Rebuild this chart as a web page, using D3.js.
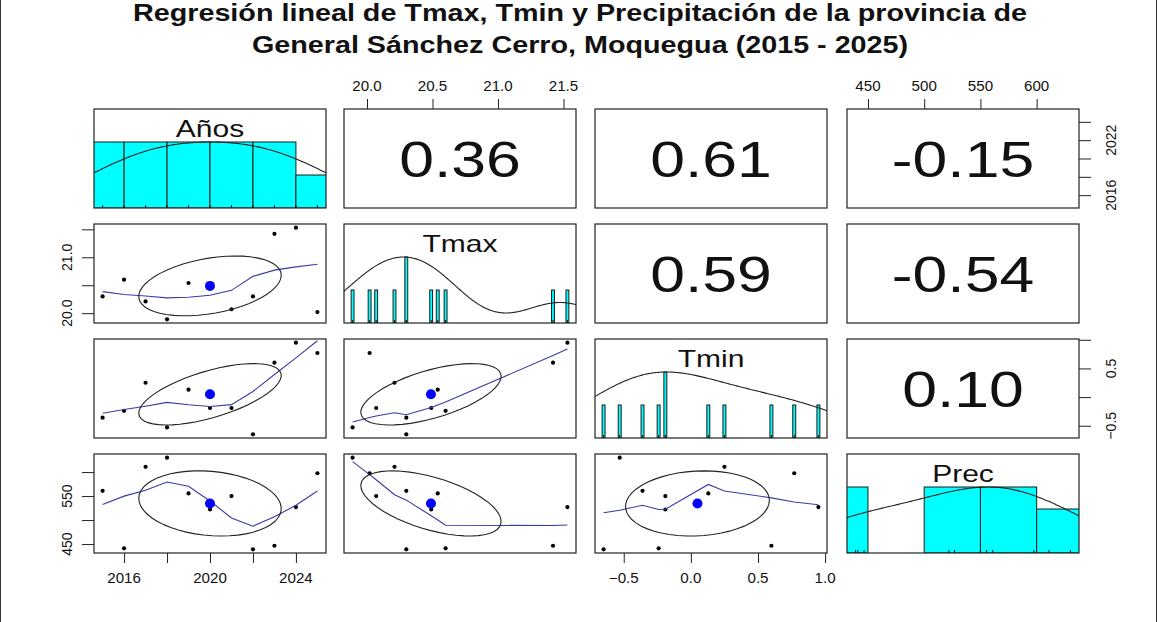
<!DOCTYPE html>
<html>
<head>
<meta charset="utf-8">
<script src="https://cdn.jsdelivr.net/npm/d3@7"></script>
<style>
  body { margin: 0; background: #fff; }
  svg { display: block; }
  text { font-family: "Liberation Sans", Arial, sans-serif; fill: #111; }
</style>
</head>
<body>
<svg id="chart" width="1158" height="622"></svg>
<script>
// ---- data: yearly values for General Sánchez Cerro, Moquegua ----
const varNames = ["Años", "Tmax", "Tmin", "Prec"];
const years = [2015, 2016, 2017, 2018, 2019, 2020, 2021, 2022, 2023, 2024, 2025];
const tmax  = [20.30, 20.60, 20.21, 19.89, 20.54, 20.49, 20.07, 20.30, 21.42, 21.53, 20.02];
const tmin  = [-0.36, -0.24, 0.25, -0.53, 0.13, -0.19, -0.19, -0.65, 0.60, 0.95, 0.77];
const prec  = [561, 441, 611, 630, 555.5, 522, 550, 439, 446.5, 527, 597.5];

// correlation labels for the upper triangle: [row, col, text]
const corrCells = [
  [0, 1, "0.36"], [0, 2, "0.61"], [0, 3, "-0.15"],
  [1, 2, "0.59"], [1, 3, "-0.54"],
  [2, 3, "0.10"]
];

// tick values and the labels printed on each outer axis
const yearTicks = [2016, 2018, 2020, 2022, 2024];
const yearBottomLabels = [2016, 2020, 2024];
const yearRightLabels = [2016, 2022];
const tmaxTicks = [20.0, 20.5, 21.0, 21.5];
const tmaxTopLabels = [20.0, 20.5, 21.0, 21.5];
const tmaxLeftLabels = [20.0, 21.0];
const tminTicks = [-0.5, 0.0, 0.5, 1.0];
const tminBottomLabels = [-0.5, 0.0, 0.5, 1.0];
const tminRightLabels = [-0.5, 0.5];
const precTicks = [450, 500, 550, 600];
const precTopLabels = [450, 500, 550, 600];
const precLeftLabels = [450, 550];

const titleLines = [
  "Regresión lineal de Tmax, Tmin y Precipitación de la provincia de",
  "General Sánchez Cerro, Moquegua (2015 - 2025)"
];

// ---- layout ----
const W = 1158, H = 622;
const SX = 1.25;                 // horizontal stretch of the large lettering
const SXT = 1.08;                // horizontal stretch of tick labels
const tickFont = 14;
const panelW = 232, panelH = 99;
const colX = [94, 344, 595, 847];
const rowY = [109, 224, 339, 454];
const histCol = "#00FFFF";
const smoothCol = "#3a3aa6";

const vars = [years, tmax, tmin, prec];

const svg = d3.select("#chart");
svg.append("rect").attr("width", W).attr("height", H).attr("fill", "#fff");
// thin frame down the sides of the figure
svg.append("path").attr("d", `M0.5,0V${H}M${W - 1.5},0V${H}`)
  .attr("stroke", "#333").attr("stroke-width", 1).attr("fill", "none");

function stext(g, x, y, str, size, opt = {}) {
  const sx = opt.sx || SX;
  const t = g.append("text")
    .attr("transform", `translate(${x},${y}) scale(${sx},1)` + (opt.rot ? ` rotate(${opt.rot})` : ""))
    .attr("text-anchor", opt.anchor || "middle")
    .attr("font-size", size)
    .text(str);
  if (opt.weight) t.attr("font-weight", opt.weight);
  return t;
}

// axis scales: data range padded by 4% on both ends, as R does
function padded(v) {
  const [a, b] = d3.extent(v);
  const p = (b - a) * 0.04;
  return [a - p, b + p];
}
const xScales = vars.map((v, j) => d3.scaleLinear().domain(padded(v)).range([colX[j], colX[j] + panelW]));
const yScales = vars.map((v, i) => d3.scaleLinear().domain(padded(v)).range([rowY[i] + panelH, rowY[i]]));

// ---- statistics helpers ----
function lowest(x, y, n, xs, nleft, nright, w, userw, rw) {
  const range = x[n] - x[1];
  const h = Math.max(xs - x[nleft], x[nright] - xs);
  const h9 = 0.999 * h, h1 = 0.001 * h;
  let a = 0, j = nleft;
  while (j <= n) {
    w[j] = 0;
    const r = Math.abs(x[j] - xs);
    if (r <= h9) {
      w[j] = r <= h1 ? 1 : Math.pow(1 - Math.pow(r / h, 3), 3);
      if (userw) w[j] *= rw[j];
      a += w[j];
    } else if (x[j] > xs) break;
    j++;
  }
  const nrt = j - 1;
  if (a <= 0) return { ok: false };
  for (j = nleft; j <= nrt; j++) w[j] /= a;
  if (h > 0) {
    a = 0;
    for (j = nleft; j <= nrt; j++) a += w[j] * x[j];
    let b = xs - a, c = 0;
    for (j = nleft; j <= nrt; j++) c += w[j] * (x[j] - a) * (x[j] - a);
    if (Math.sqrt(c) > 0.001 * range) {
      b /= c;
      for (j = nleft; j <= nrt; j++) w[j] *= (b * (x[j] - a) + 1);
    }
  }
  let ys = 0;
  for (j = nleft; j <= nrt; j++) ys += w[j] * y[j];
  return { ok: true, ys };
}

function lowess(xIn, yIn, f = 2 / 3, nsteps = 3) {
  const n = xIn.length;
  const ord = d3.range(n).sort((a, b) => (xIn[a] - xIn[b]) || (a - b));
  const x = [0].concat(ord.map(i => xIn[i]));
  const y = [0].concat(ord.map(i => yIn[i]));
  const delta = 0.01 * (x[n] - x[1]);
  const ys = new Array(n + 1).fill(0), rw = new Array(n + 1).fill(0), res = new Array(n + 1).fill(0);
  const ns = Math.max(2, Math.min(n, Math.floor(f * n + 1e-7)));
  let iter = 1;
  while (iter <= nsteps + 1) {
    let nleft = 1, nright = ns, last = 0, i = 1;
    for (;;) {
      if (nright < n) {
        const d1 = x[i] - x[nleft], d2 = x[nright + 1] - x[i];
        if (d1 > d2) { nleft++; nright++; continue; }
      }
      const out = lowest(x, y, n, x[i], nleft, nright, res, iter > 1, rw);
      ys[i] = out.ok ? out.ys : y[i];
      if (last < i - 1) {
        const denom = x[i] - x[last];
        for (let j = last + 1; j < i; j++) {
          const alpha = (x[j] - x[last]) / denom;
          ys[j] = alpha * ys[i] + (1 - alpha) * ys[last];
        }
      }
      last = i;
      const cut = x[last] + delta;
      for (i = last + 1; i <= n; i++) {
        if (x[i] > cut) break;
        if (x[i] === x[last]) { ys[i] = ys[last]; last = i; }
      }
      i = Math.max(last + 1, i - 1);
      if (last >= n) break;
    }
    for (let k = 1; k <= n; k++) res[k] = y[k] - ys[k];
    let sc = 0;
    for (let k = 1; k <= n; k++) sc += Math.abs(res[k]);
    sc /= n;
    if (iter > nsteps) break;
    const sorted = d3.range(1, n + 1).map(k => Math.abs(res[k])).sort(d3.ascending);
    const m1 = Math.floor(n / 2);
    const cmad = n % 2 === 0 ? 3 * (sorted[m1] + sorted[n - m1 - 1]) : 6 * sorted[m1];
    if (cmad < 1e-7 * sc) break;
    const c9 = 0.999 * cmad, c1 = 0.001 * cmad;
    for (let k = 1; k <= n; k++) {
      const r = Math.abs(res[k]);
      rw[k] = r <= c1 ? 1 : (r <= c9 ? Math.pow(1 - Math.pow(r / cmad, 2), 2) : 0);
    }
    iter++;
  }
  return d3.range(1, n + 1).map(k => [x[k], ys[k]]);
}

function densityCurve(v) {
  const n = v.length;
  const s = v.slice().sort(d3.ascending);
  const iqr = d3.quantileSorted(s, 0.75) - d3.quantileSorted(s, 0.25);
  const bw = 1.2 * 1.06 * Math.min(d3.deviation(v), iqr / 1.34) * Math.pow(n, -0.2);
  const from = s[0] - 3 * bw, to = s[n - 1] + 3 * bw;
  const pts = d3.range(512).map(k => {
    const xv = from + (to - from) * k / 511;
    let d = 0;
    for (const xi of v) d += Math.exp(-0.5 * Math.pow((xv - xi) / bw, 2));
    return [xv, d];
  });
  const mx = d3.max(pts, p => p[1]);
  return pts.map(p => [p[0], p[1] / mx]);
}

function histogramBins(v) {
  const n = v.length;
  const nclass = Math.ceil(Math.log2(n) + 1);
  const [lo, hi] = d3.extent(v);
  const step = d3.tickIncrement(lo, hi, nclass);
  const breaks = [];
  for (let b = Math.floor(lo / step) * step; b < hi + step * 0.5; b += step) breaks.push(b);
  if (breaks[breaks.length - 1] < hi) breaks.push(breaks[breaks.length - 1] + step);
  const bins = [];
  for (let k = 0; k < breaks.length - 1; k++) {
    const a = breaks[k], b = breaks[k + 1];
    const c = v.filter(x => (x > a || (k === 0 && x >= a)) && x <= b).length;
    bins.push({ a, b, c });
  }
  return bins;
}

const defs = svg.append("defs");
colX.forEach((cx, j) => rowY.forEach((ry, i) => {
  defs.append("clipPath").attr("id", `clip-${i}-${j}`)
    .append("rect").attr("x", cx).attr("y", ry).attr("width", panelW).attr("height", panelH);
}));

// ---- panels ----
for (let i = 0; i < 4; i++) {
  for (let j = 0; j < 4; j++) {
    const g = svg.append("g");
    const inner = g.append("g").attr("clip-path", `url(#clip-${i}-${j})`);
    const x0 = colX[j], y0 = rowY[i];
    if (i === j) {
      // diagonal: histogram (or value bars), density curve, rug, name
      const v = vars[i];
      const xs = xScales[i];
      const hy = d3.scaleLinear().domain([0, 1.5]).range([y0 + panelH, y0]);
      const counts = d3.rollup(v, a => a.length, d => d);
      if (counts.size < 11) {
        const vals = Array.from(counts.keys()).sort(d3.ascending);
        const maxC = d3.max(counts.values());
        const inter = d3.min(d3.pairs(vals), p => p[1] - p[0]) * (vals.length - 1) / 41;
        inner.selectAll("rect.bar").data(vals).join("rect")
          .attr("x", d => xs(d - inter)).attr("width", d => xs(d + inter) - xs(d - inter))
          .attr("y", d => hy(counts.get(d) / maxC)).attr("height", d => hy(0) - hy(counts.get(d) / maxC))
          .attr("fill", histCol).attr("stroke", "#1a1a1a").attr("stroke-width", 1);
      } else {
        const bins = histogramBins(v);
        const maxC = d3.max(bins, b => b.c);
        inner.selectAll("rect.bar").data(bins).join("rect")
          .attr("x", d => xs(d.a)).attr("width", d => xs(d.b) - xs(d.a))
          .attr("y", d => hy(d.c / maxC)).attr("height", d => hy(0) - hy(d.c / maxC))
          .attr("fill", histCol).attr("stroke", "#1a1a1a").attr("stroke-width", 1);
      }
      inner.append("path").datum(densityCurve(v))
        .attr("d", d3.line().x(d => xs(d[0])).y(d => hy(d[1])))
        .attr("fill", "none").attr("stroke", "#222").attr("stroke-width", 1.1);
      inner.selectAll("line.rug").data(v).join("line")
        .attr("x1", d => xs(d)).attr("x2", d => xs(d))
        .attr("y1", y0 + panelH).attr("y2", y0 + panelH - 3)
        .attr("stroke", "#111").attr("stroke-width", 1);
      stext(g, x0 + panelW / 2, y0 + 27.5, varNames[i], 24);
    } else if (i > j) {
      // lower triangle: scatter, lowess smoother, correlation ellipse and centroid
      const xv = vars[j], yv = vars[i];
      const xs = xScales[j], ys = yScales[i];
      inner.selectAll("circle.pt").data(xv.map((d, k) => [d, yv[k]])).join("circle")
        .attr("cx", d => xs(d[0])).attr("cy", d => ys(d[1])).attr("r", 2.1).attr("fill", "#000");
      inner.append("path").datum(lowess(xv, yv))
        .attr("d", d3.line().x(d => xs(d[0])).y(d => ys(d[1])))
        .attr("fill", "none").attr("stroke", smoothCol).attr("stroke-width", 1.1);
      const xm = d3.mean(xv), ym = d3.mean(yv), sdx = d3.deviation(xv), sdy = d3.deviation(yv);
      const r = d3.sum(xv.map((d, k) => (d - xm) * (yv[k] - ym))) / ((xv.length - 1) * sdx * sdy);
      const th = (r === 0 ? 1 : Math.sign(r)) / Math.SQRT2;
      const ell = d3.range(52).map(k => {
        const a = k * 2 * Math.PI / 51, c = Math.cos(a), s = Math.sin(a);
        const ex = c * Math.sqrt(1 + r) * th - s * Math.sqrt(1 - r) * th;
        const ey = c * Math.sqrt(1 + r) * th + s * Math.sqrt(1 - r) * th;
        return [ex * sdx + xm, ey * sdy + ym];
      });
      inner.append("circle").attr("cx", xs(xm)).attr("cy", ys(ym)).attr("r", 5).attr("fill", "#0000ff");
      inner.append("path").datum(ell)
        .attr("d", d3.line().x(d => xs(d[0])).y(d => ys(d[1])))
        .attr("fill", "none").attr("stroke", "#222").attr("stroke-width", 1.1);
    } else {
      const cell = corrCells.find(c => c[0] === i && c[1] === j);
      stext(g, x0 + panelW / 2, y0 + panelH / 2 + 18, cell[2], 50);
    }
    g.append("rect").attr("x", x0).attr("y", y0).attr("width", panelW).attr("height", panelH)
      .attr("fill", "none").attr("stroke", "#222").attr("stroke-width", 1.2);
  }
}

// ---- outer axes ----
const axG = svg.append("g").attr("stroke-width", 1);
function ticksOnly(axis, tr) {
  const a = axG.append("g").attr("transform", tr).call(axis);
  a.select(".domain").remove();
  a.selectAll("line").attr("stroke", "#222");
  a.selectAll("text").remove();
}
const f1 = d3.format(".1f"), f0 = d => String(d);
const TV = 10, TH = 12;
const lab = { sx: SXT };
const labR = { sx: SXT, rot: -90 };
// bottom: Años (col 0), Tmin (col 2)
ticksOnly(d3.axisBottom(xScales[0]).tickValues(yearTicks).tickSize(TV), `translate(0,${rowY[3] + panelH})`);
yearBottomLabels.forEach(v => stext(axG, xScales[0](v), rowY[3] + panelH + 30, f0(v), tickFont, lab));
ticksOnly(d3.axisBottom(xScales[2]).tickValues(tminTicks).tickSize(TV), `translate(0,${rowY[3] + panelH})`);
tminBottomLabels.forEach(v => stext(axG, xScales[2](v), rowY[3] + panelH + 30, f1(v), tickFont, lab));
// top: Tmax (col 1), Prec (col 3)
ticksOnly(d3.axisTop(xScales[1]).tickValues(tmaxTicks).tickSize(TV), `translate(0,${rowY[0]})`);
tmaxTopLabels.forEach(v => stext(axG, xScales[1](v), rowY[0] - 18.5, f1(v), tickFont, lab));
ticksOnly(d3.axisTop(xScales[3]).tickValues(precTicks).tickSize(TV), `translate(0,${rowY[0]})`);
precTopLabels.forEach(v => stext(axG, xScales[3](v), rowY[0] - 18.5, f0(v), tickFont, lab));
// right: Años (row 0), Tmin (row 2)
const rx = colX[3] + panelW;
ticksOnly(d3.axisRight(yScales[0]).tickValues(yearTicks).tickSize(TH), `translate(${rx},0)`);
yearRightLabels.forEach(v => stext(axG, rx + 37, yScales[0](v), f0(v), tickFont, labR));
ticksOnly(d3.axisRight(yScales[2]).tickValues(tminTicks).tickSize(TH), `translate(${rx},0)`);
tminRightLabels.forEach(v => stext(axG, rx + 37, yScales[2](v), f1(v), tickFont, labR));
// left: Tmax (row 1), Prec (row 3)
const lx = colX[0];
ticksOnly(d3.axisLeft(yScales[1]).tickValues(tmaxTicks).tickSize(TH), `translate(${lx},0)`);
tmaxLeftLabels.forEach(v => stext(axG, lx - 22, yScales[1](v), f1(v), tickFont, labR));
ticksOnly(d3.axisLeft(yScales[3]).tickValues(precTicks).tickSize(TH), `translate(${lx},0)`);
precLeftLabels.forEach(v => stext(axG, lx - 22, yScales[3](v), f0(v), tickFont, labR));

// ---- title ----
stext(svg, 580, 21, titleLines[0], 23, { weight: "bold" });
stext(svg, 580, 53, titleLines[1], 23, { weight: "bold" });
</script>
</body>
</html>
